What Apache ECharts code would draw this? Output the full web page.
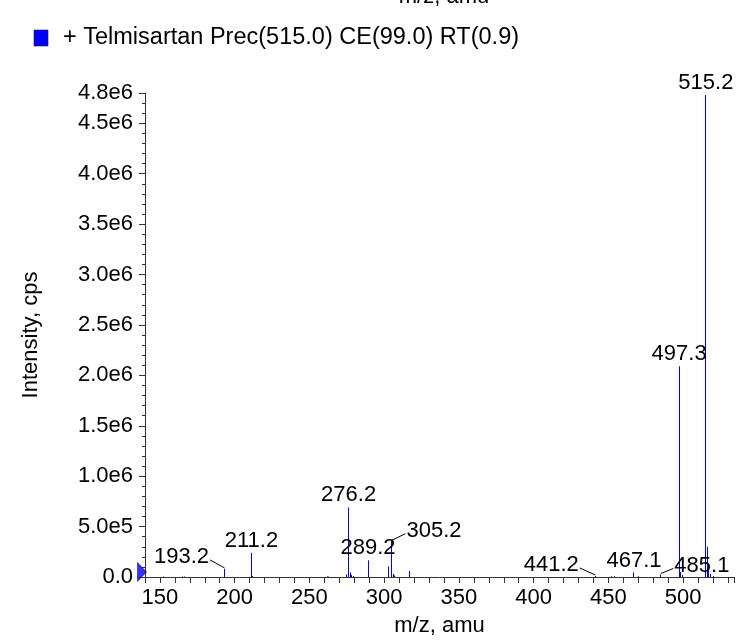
<!DOCTYPE html>
<html>
<head>
<meta charset="utf-8">
<script src="https://cdn.jsdelivr.net/npm/echarts@6/dist/echarts.min.js"></script>
<style>
html,body{margin:0;padding:0;background:#fff;}
#chart{width:737px;height:642px;}
</style>
</head>
<body>
<div id="chart"></div>
<script>
// ---- data ----
const peakMz = [152.1, 165.1, 166.1, 193.2, 211.2, 212.2, 261.8, 262.9, 275.1, 276.2, 277.2, 278.2, 279.2,
  289.2, 303.2, 305.2, 306.2, 307.2, 317.2, 441.2, 452.2, 454.0, 467.1, 470.1, 485.1,
  497.3, 498.3, 499.3, 515.2, 516.2, 517.2, 518.2, 520.2];
const peakIntensity = [4000, 6000, 5000, 80000, 240000, 10000, 6000, 5000, 25000, 690000, 45000, 20000, 10000,
  165000, 105000, 355000, 30000, 15000, 60000, 10000, 8000, 8000, 45000, 8000, 25000,
  2090000, 50000, 20000, 4780000, 300000, 100000, 30000, 10000];
const labelMz = [193.2, 211.2, 276.2, 289.2, 305.2, 441.2, 467.1, 485.1, 497.3, 515.2];
const labelText = ['193.2', '211.2', '276.2', '289.2', '305.2', '441.2', '467.1', '485.1', '497.3', '515.2'];
const yTickValues = [0, 500000, 1000000, 1500000, 2000000, 2500000, 3000000, 3500000, 4000000, 4500000, 4800000];
const xTickLabels = [150, 200, 250, 300, 350, 400, 450, 500];
const legendText = '+ Telmisartan Prec(515.0) CE(99.0) RT(0.9)';
const xName = 'm/z, amu';
const yName = 'Intensity, cps';

// ---- layout / style (not data) ----
const X_MIN = 140, X_MAX = 534, Y_MIN = 0, Y_MAX = 4800000;
const FONT_FAMILY = '"Liberation Sans", Arial, Helvetica, sans-serif';
const FONT = '22px ' + FONT_FAMILY;
const LEGEND_FONT = '23.5px ' + FONT_FAMILY;
const labelOffsets = { '193.2': [-43, -12], '441.2': [-44, -11], '485.1': [41, -9], '305.2': [42, -10.5] };

const mctx = document.createElement('canvas').getContext('2d');
mctx.font = FONT;
function textWidth(t) { return mctx.measureText(t).width; }

function sci(v) {
  if (v === 0) return '0.0';
  const e = Math.floor(Math.log10(v) + 1e-9);
  const m = v / Math.pow(10, e);
  return m.toFixed(1) + 'e' + e;
}

const peakData = peakMz.map((m, i) => [m, peakIntensity[i]]);
const labelData = labelMz.map((m, i) => [m, peakIntensity[peakMz.indexOf(m)], i]);

const chart = echarts.init(document.getElementById('chart'), null, { renderer: 'canvas' });
chart.setOption({
  animation: false,
  backgroundColor: '#fff',
  textStyle: { fontFamily: FONT_FAMILY },
  grid: { left: 145, top: 93, width: (X_MAX - X_MIN) * 1.5, height: 490.5, containLabel: false },
  xAxis: {
    type: 'value', min: X_MIN, max: X_MAX, interval: 10,
    name: xName, nameLocation: 'middle', nameGap: 38,
    nameTextStyle: { fontSize: 22, color: '#000', fontFamily: FONT_FAMILY },
    axisLine: { show: true, lineStyle: { color: '#333', width: 1 } },
    axisTick: { show: true, length: 6, lineStyle: { color: '#333' } },
    axisLabel: {
      margin: 10, fontSize: 22, color: '#000', fontFamily: FONT_FAMILY,
      formatter: v => (xTickLabels.indexOf(Math.round(v)) >= 0 && Math.abs(v - Math.round(v)) < 1e-6) ? String(Math.round(v)) : ''
    },
    splitLine: { show: false }
  },
  yAxis: [{
    type: 'value', min: Y_MIN, max: Y_MAX, interval: 500000,
    name: yName, nameLocation: 'middle', nameGap: 103, nameRotate: 90,
    nameTextStyle: { fontSize: 22, color: '#000', fontFamily: FONT_FAMILY },
    axisLine: { show: true, lineStyle: { color: '#333', width: 1 } },
    axisTick: { show: true, length: 6, lineStyle: { color: '#333' } },
    axisLabel: {
      margin: 12, fontSize: 22, color: '#000', fontFamily: FONT_FAMILY,
      formatter: v => yTickValues.some(t => Math.abs(t - v) < 1) ? sci(v) : ''
    },
    splitLine: { show: false }
  }, {
    type: 'value', min: Y_MIN, max: Y_MAX, interval: 100000, position: 'left',
    axisLine: { show: false },
    axisTick: { show: true, length: 3, lineStyle: { color: '#333' } },
    axisLabel: { show: false },
    splitLine: { show: false }
  }],
  graphic: [
    { type: 'rect', shape: { x: 34, y: 30, width: 14, height: 16 }, style: { fill: '#0000ff', stroke: '#222', lineWidth: 0.6 } },
    { type: 'text', x: 63, y: 38, style: { text: legendText, font: LEGEND_FONT, fill: '#000', align: 'left', verticalAlign: 'middle' } },
    { type: 'text', x: 444, y: -3, style: { text: xName, font: FONT, fill: '#000', align: 'center', verticalAlign: 'middle' } }
  ],
  series: [{
    type: 'custom', xAxisIndex: 0, yAxisIndex: 0, clip: false, silent: true,
    data: peakData,
    encode: { x: 0, y: 1 },
    renderItem: (params, api) => {
      const b = api.coord([api.value(0), 0]);
      const t = api.coord([api.value(0), api.value(1)]);
      const x = Math.round(b[0] - 0.5) + 0.5;
      return { type: 'line', shape: { x1: x, y1: b[1], x2: x, y2: t[1] }, style: { stroke: '#0000ff', lineWidth: 1 } };
    }
  }, {
    type: 'custom', xAxisIndex: 0, yAxisIndex: 0, clip: false, silent: true,
    data: labelData,
    encode: { x: 0, y: 1 },
    renderItem: (params, api) => {
      const i = api.value(2);
      const txt = labelText[i];
      const top = api.coord([api.value(0), api.value(1)]);
      const off = labelOffsets[txt] || [0, -12];
      const cx = top[0] + off[0], cy = top[1] + off[1];
      const children = [{ type: 'text', x: cx, y: cy, style: { text: txt, font: FONT, fill: '#000', align: 'center', verticalAlign: 'middle' } }];
      if (off[0] !== 0) {
        const hw = textWidth(txt) / 2;
        const ex = cx - Math.sign(off[0]) * (hw + 1);
        const ey = cy + 3;
        children.push({ type: 'line', shape: { x1: top[0], y1: top[1] - 1, x2: ex, y2: ey }, style: { stroke: '#000', lineWidth: 1 } });
      }
      return { type: 'group', children };
    }
  }, {
    type: 'scatter', xAxisIndex: 0, yAxisIndex: 0, clip: false, silent: true,
    data: [[X_MIN, 0]],
    symbol: 'triangle', symbolSize: [19, 9], symbolRotate: -90, symbolOffset: [-3, -5],
    itemStyle: { color: '#0000ff', borderColor: '#000044', borderWidth: 0.6 }
  }]
});
</script>
</body>
</html>
